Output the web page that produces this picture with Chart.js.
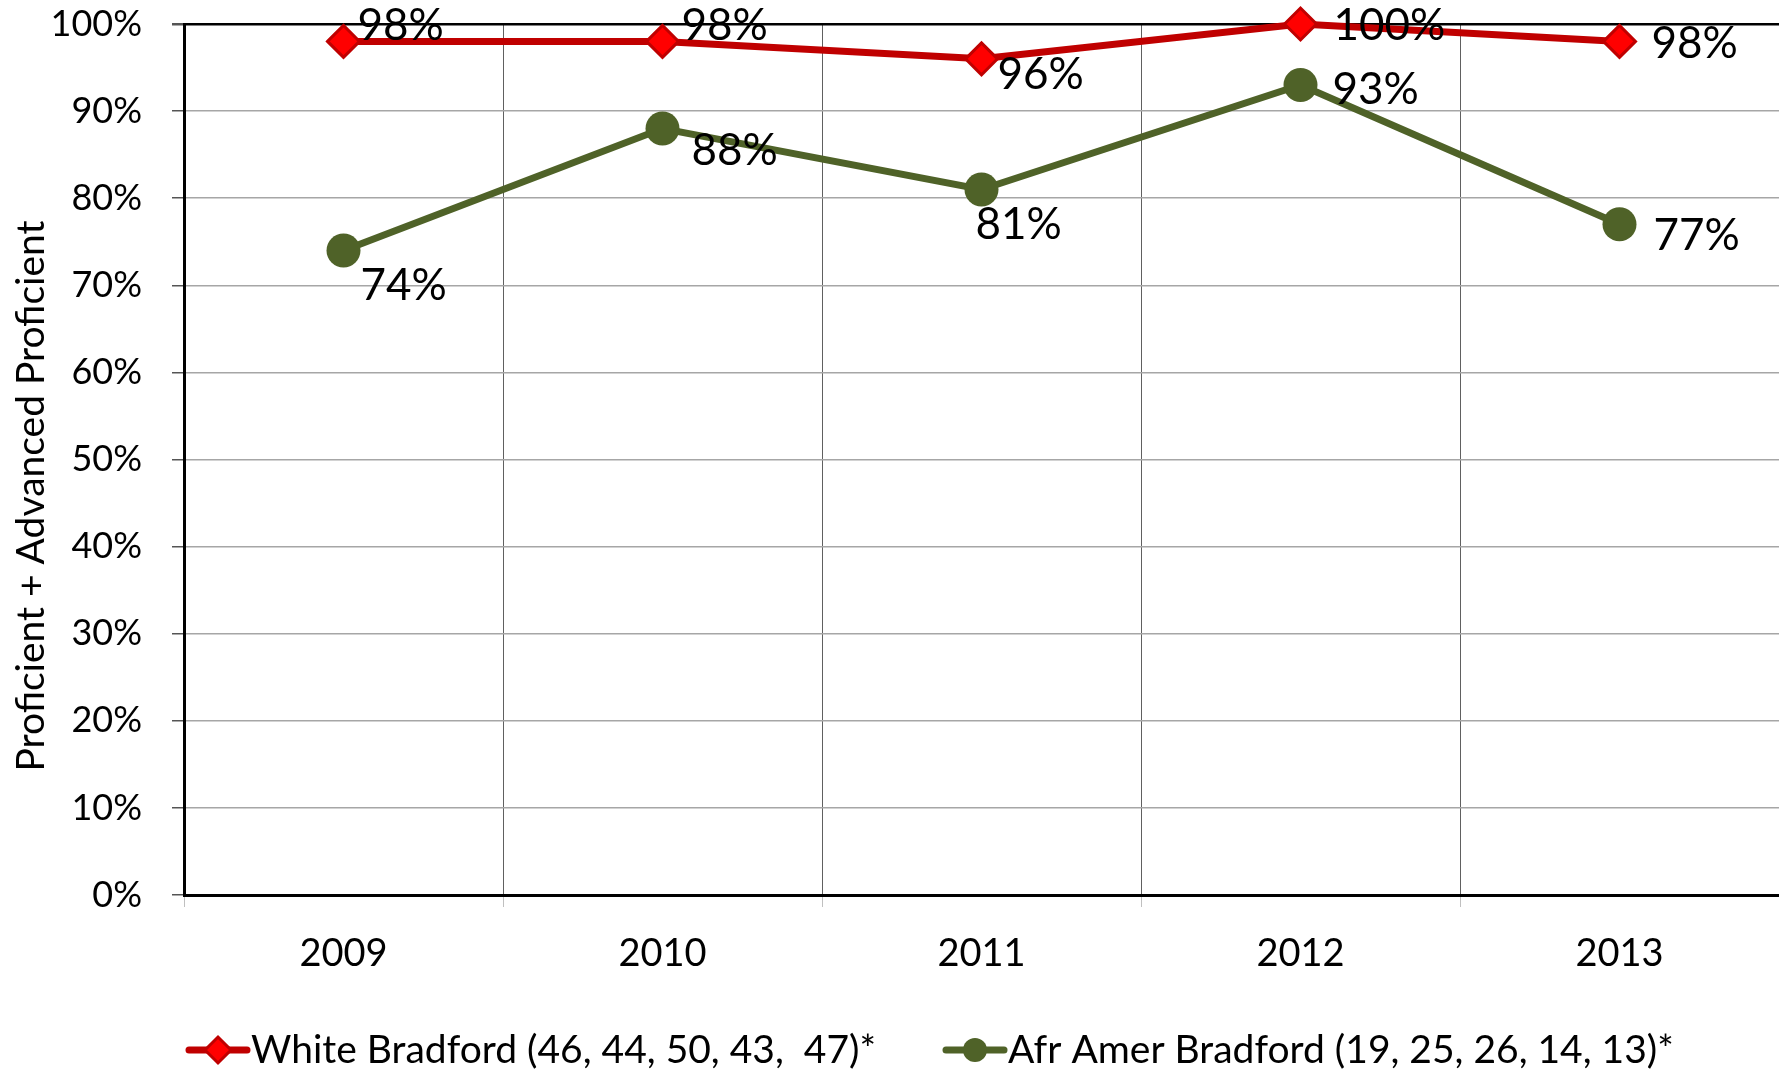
<!DOCTYPE html>
<html>
<head>
<meta charset="utf-8">
<script src="https://cdn.jsdelivr.net/npm/chart.js@4.4.1/dist/chart.umd.min.js"></script>
<style>
  html, body { margin: 0; padding: 0; background: #fff; }
  canvas { display: block; }
</style>
</head>
<body>
<canvas id="chart" width="1779" height="1071"></canvas>
<script>
/* ================= DATA ================= */
const years = ["2009", "2010", "2011", "2012", "2013"];
const whiteValues = [98, 98, 96, 100, 98];
const afrAmerValues = [74, 88, 81, 93, 77];
const whiteLabel = "White Bradford (46, 44, 50, 43,  47)*";
const afrAmerLabel = "Afr Amer Bradford (19, 25, 26, 14, 13)*";
const yTitle = "Proficient + Advanced Proficient";

// where each value label sits relative to its point: [left edge dx, centre dy]
const whiteLabelOffsets = [[14, -16], [19, -16], [16, 16], [33, 2], [32, 2]];
const afrLabelOffsets = [[17, 35], [29, 22], [-6, 35], [32, 5], [34, 11]];

const RED = "#C00000";
const RED_FILL = "#FF0000";
const GREEN = "#4F6228";
const FONT = "Lato, 'Open Sans', sans-serif";

/* ================= HELPERS ================= */
function drawDiamond(ctx, x, y, r, fill, stroke, bw) {
    ctx.beginPath();
    ctx.moveTo(x - r, y);
    ctx.lineTo(x, y - r);
    ctx.lineTo(x + r, y);
    ctx.lineTo(x, y + r);
    ctx.closePath();
    ctx.fillStyle = fill;
    ctx.fill();
    ctx.lineWidth = bw;
    ctx.strokeStyle = stroke;
    ctx.stroke();
}

function drawLegendItem(ctx, x, y, color, marker, text) {
    ctx.lineWidth = 7;
    ctx.strokeStyle = color;
    ctx.lineCap = "round";
    ctx.beginPath();
    ctx.moveTo(x, y);
    ctx.lineTo(x + 58, y);
    ctx.stroke();
    if (marker === "diamond") {
        drawDiamond(ctx, x + 29, y, 13, RED_FILL, RED, 3);
    } else {
        ctx.beginPath();
        ctx.arc(x + 29, y, 12, 0, Math.PI * 2);
        ctx.fillStyle = color;
        ctx.fill();
    }
    ctx.fillStyle = "#000";
    ctx.textAlign = "left";
    ctx.textBaseline = "middle";
    ctx.fillText(text, x + 62, y);
}

/* ================= PLUGIN: labels, legend, axis title ================= */
const extrasPlugin = {
    id: "extras",
    afterDatasetsDraw(chart) {
        const ctx = chart.ctx;
        ctx.save();
        ctx.font = "44px " + FONT;
        ctx.fillStyle = "#000";
        ctx.textAlign = "left";
        ctx.textBaseline = "middle";
        chart.data.datasets.forEach((ds, i) => {
            chart.getDatasetMeta(i).data.forEach((pt, j) => {
                const off = ds.labelOffsets[j];
                ctx.fillText(ds.data[j] + "%", pt.x + off[0], pt.y + off[1]);
            });
        });
        ctx.restore();
    },
    afterDraw(chart) {
        const ctx = chart.ctx;
        ctx.save();
        ctx.font = "39px " + FONT;
        drawLegendItem(ctx, 189, 1050, RED, "diamond", whiteLabel);
        drawLegendItem(ctx, 946, 1050, GREEN, "circle", afrAmerLabel);

        ctx.translate(31, 496);
        ctx.rotate(-Math.PI / 2);
        ctx.font = "39px " + FONT;
        ctx.fillStyle = "#000";
        ctx.textAlign = "center";
        ctx.textBaseline = "middle";
        ctx.fillText(yTitle, 0, 0);
        ctx.restore();
    }
};

/* ================= CHART ================= */
new Chart(document.getElementById("chart"), {
    type: "line",
    data: {
        labels: years,
        datasets: [
            {
                label: whiteLabel,
                data: whiteValues,
                labelOffsets: whiteLabelOffsets,
                borderColor: RED,
                borderWidth: 7,
                pointStyle: "rectRot",
                pointRadius: 16,
                pointBackgroundColor: RED_FILL,
                pointBorderColor: RED,
                pointBorderWidth: 3,
                tension: 0,
                clip: false
            },
            {
                label: afrAmerLabel,
                data: afrAmerValues,
                labelOffsets: afrLabelOffsets,
                borderColor: GREEN,
                borderWidth: 7,
                pointStyle: "circle",
                pointRadius: 17,
                pointBackgroundColor: GREEN,
                pointBorderColor: GREEN,
                pointBorderWidth: 0,
                tension: 0,
                clip: false
            }
        ]
    },
    options: {
        responsive: false,
        animation: false,
        events: [],
        layout: {
            autoPadding: false,
            padding: { top: 24, right: 0, bottom: 0, left: 0 }
        },
        plugins: {
            legend: { display: false },
            tooltip: { enabled: false }
        },
        scales: {
            x: {
                offset: true,
                afterFit(scale) {
                    scale.height = 176;
                    scale.paddingLeft = 0;
                    scale.paddingRight = 0;
                },
                grid: {
                    offset: true,
                    color: "#606060",
                    lineWidth: 1,
                    tickLength: 12,
                    tickColor: "#c0c0c0"
                },
                border: { color: "#000", width: 3 },
                ticks: {
                    font: { family: FONT, size: 38 },
                    color: "#000",
                    padding: 24,
                    maxRotation: 0
                }
            },
            y: {
                min: 0,
                max: 100,
                afterFit(scale) {
                    scale.width = 184;
                    scale.paddingTop = 0;
                    scale.paddingBottom = 0;
                },
                grid: {
                    color: ctx => (ctx.tick && ctx.tick.value === 100 ? "#000" : "#a6a6a6"),
                    lineWidth: ctx => (ctx.tick && ctx.tick.value === 100 ? 2.5 : 1.5),
                    tickLength: 12,
                    tickColor: "#555"
                },
                border: { color: "#000", width: 3 },
                ticks: {
                    stepSize: 10,
                    font: { family: FONT, size: 36 },
                    color: "#000",
                    padding: 30,
                    callback: v => v + "%"
                }
            }
        }
    },
    plugins: [extrasPlugin]
});
</script>
</body>
</html>
